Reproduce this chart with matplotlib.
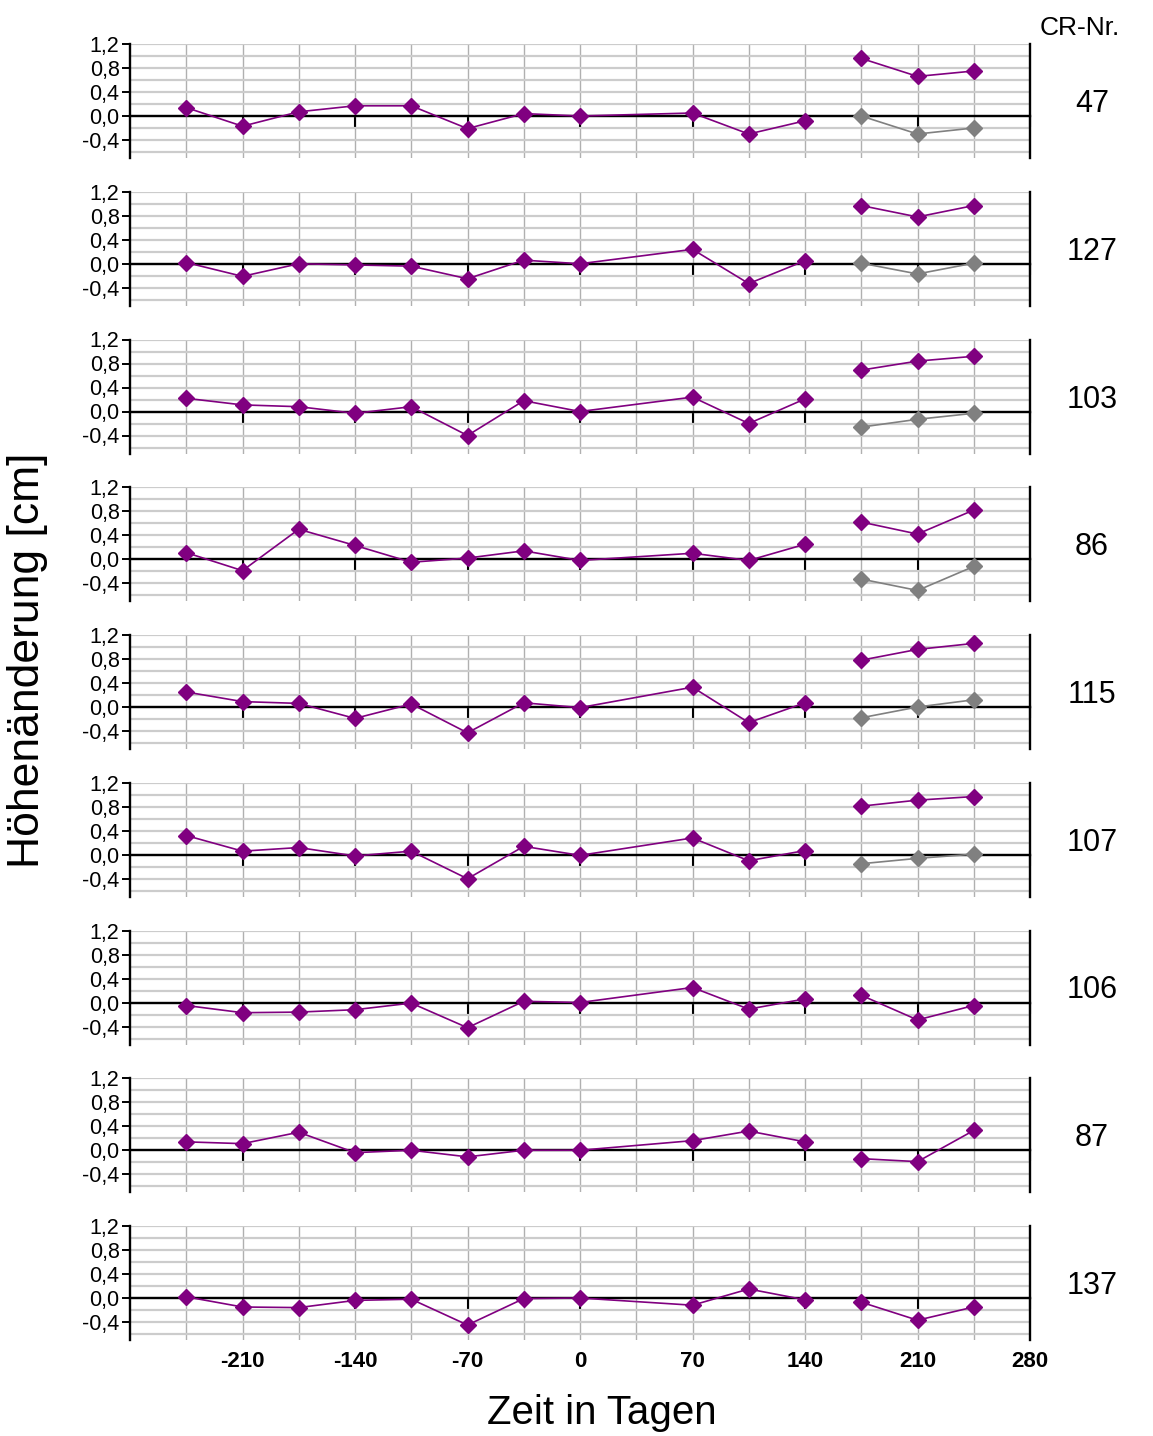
import matplotlib
matplotlib.use("Agg")
import matplotlib.pyplot as plt
import matplotlib.transforms as mtransforms
import numpy as np

plt.rcParams['font.family'] = ['Liberation Sans', 'DejaVu Sans']

# ---------------- data ----------------
days_main = [-245, -210, -175, -140, -105, -70, -35, 0, 70, 105, 140]
days_late = [175, 210, 245]

panel_ids = ["47", "127", "103", "86", "115", "107", "106", "87", "137"]

p47 = [0.14, -0.17, 0.07, 0.17, 0.17, -0.21, 0.04, 0.0, 0.05, -0.30, -0.08, 0.96, 0.66, 0.75]
p127 = [0.02, -0.21, 0.0, -0.02, -0.04, -0.25, 0.06, 0.0, 0.24, -0.33, 0.05, 0.97, 0.78, 0.97]
p103 = [0.22, 0.11, 0.08, -0.03, 0.08, -0.40, 0.18, 0.0, 0.24, -0.20, 0.21, 0.69, 0.84, 0.92]
p86 = [0.11, -0.19, 0.50, 0.23, -0.05, 0.02, 0.14, -0.02, 0.10, -0.02, 0.25, 0.62, 0.42, 0.82]
p115 = [0.25, 0.09, 0.06, -0.19, 0.05, -0.43, 0.07, -0.01, 0.33, -0.26, 0.07, 0.78, 0.96, 1.06]
p107 = [0.32, 0.06, 0.12, -0.02, 0.06, -0.40, 0.14, -0.01, 0.28, -0.10, 0.07, 0.81, 0.91, 0.97]
p106 = [-0.05, -0.17, -0.16, -0.12, -0.01, -0.42, 0.02, 0.0, 0.25, -0.11, 0.06, 0.12, -0.29, -0.05]
p87 = [0.14, 0.11, 0.30, -0.04, 0.0, -0.11, 0.0, 0.0, 0.16, 0.32, 0.14, -0.14, -0.19, 0.33]
p137 = [0.02, -0.15, -0.16, -0.04, -0.02, -0.45, -0.01, 0.0, -0.12, 0.15, -0.03, -0.07, -0.37, -0.15]

g47 = [0.0, -0.30, -0.20]
g127 = [0.01, -0.17, 0.01]
g103 = [-0.26, -0.13, -0.03]
g86 = [-0.33, -0.52, -0.12]
g115 = [-0.18, 0.0, 0.12]
g107 = [-0.15, -0.06, 0.01]

purple_series = [p47, p127, p103, p86, p115, p107, p106, p87, p137]
gray_series = [g47, g127, g103, g86, g115, g107, None, None, None]

x_ticks = [-210, -140, -70, 0, 70, 140, 210, 280]
x_ticklabels = ["-210", "-140", "-70", "0", "70", "140", "210", "280"]
y_ticks = [1.2, 0.8, 0.4, 0.0, -0.4]
y_ticklabels = ["1,2", "0,8", "0,4", "0,0", "-0,4"]

# ---------------- figure ----------------
W, H = 1153, 1436
fig = plt.figure(figsize=(W / 100, H / 100), dpi=100)

left_px, right_px = 130, 1030
top0_px, step_px, height_px = 44, 147.75, 114

purple = "#800080"
gray = "#808080"

for i, pid in enumerate(panel_ids):
    top = top0_px + step_px * i
    ax = fig.add_axes([left_px / W, 1 - (top + height_px) / H,
                       (right_px - left_px) / W, height_px / H])
    ax.set_xlim(-280, 280)
    ax.set_ylim(-0.7, 1.2)

    ax.spines["top"].set_visible(False)
    for s in ["left", "right"]:
        ax.spines[s].set_color("black")
        ax.spines[s].set_linewidth(1.7)
    ax.spines["bottom"].set_position(("data", 0))
    ax.spines["bottom"].set_linewidth(1.7)
    ax.spines["bottom"].set_zorder(2.6)

    ax.set_xticks(x_ticks)
    ax.set_xticks(np.arange(-245, 246, 35), minor=True)
    ax.set_yticks(y_ticks)
    ax.set_yticks([1.0, 0.6, 0.2, -0.2, -0.6], minor=True)
    ax.set_yticklabels(y_ticklabels, fontsize=15.5)
    ax.tick_params(axis="y", which="major", direction="out", length=6, width=1.4, pad=1.5)
    ax.tick_params(axis="x", which="major", direction="out", length=8, width=1.5)
    ax.tick_params(which="minor", length=0)

    if i == len(panel_ids) - 1:
        ax.set_xticklabels(x_ticklabels, fontsize=16, fontweight="bold")
        ax.tick_params(axis="x", which="major", pad=30)
    else:
        ax.set_xticklabels([])

    ax.xaxis.grid(True, which="both", color="#b0b0b0", linewidth=1.0)
    ax.yaxis.grid(True, which="both", color="#cccccc", linewidth=1.6)
    ax.set_axisbelow(True)

    vals = purple_series[i]
    ax.plot(days_main, vals[:len(days_main)], color=purple, marker="D",
            markersize=8.5, linewidth=1.2, zorder=3)
    ax.plot(days_late, vals[len(days_main):], color=purple, marker="D",
            markersize=8.5, linewidth=1.2, zorder=3)
    if gray_series[i] is not None:
        ax.plot(days_late, gray_series[i], color=gray, marker="D",
                markersize=8.5, linewidth=1.2, zorder=3)

    trans = mtransforms.blended_transform_factory(ax.transAxes, ax.transData)
    ax.text((1092 - left_px) / (right_px - left_px), 0.2, pid, transform=trans,
            ha="center", va="center", fontsize=22)

fig.text(1080 / W, 1 - 28 / H, "CR-Nr.", ha="center", va="center", fontsize=19)
fig.text(28 / W, 1 - 660 / H, "Höhenänderung [cm]", rotation=90,
         ha="center", va="center", fontsize=32)
fig.text(602 / W, 1 - 1413 / H, "Zeit in Tagen", ha="center", va="center", fontsize=29)

fig.savefig("out.png", dpi=100)
